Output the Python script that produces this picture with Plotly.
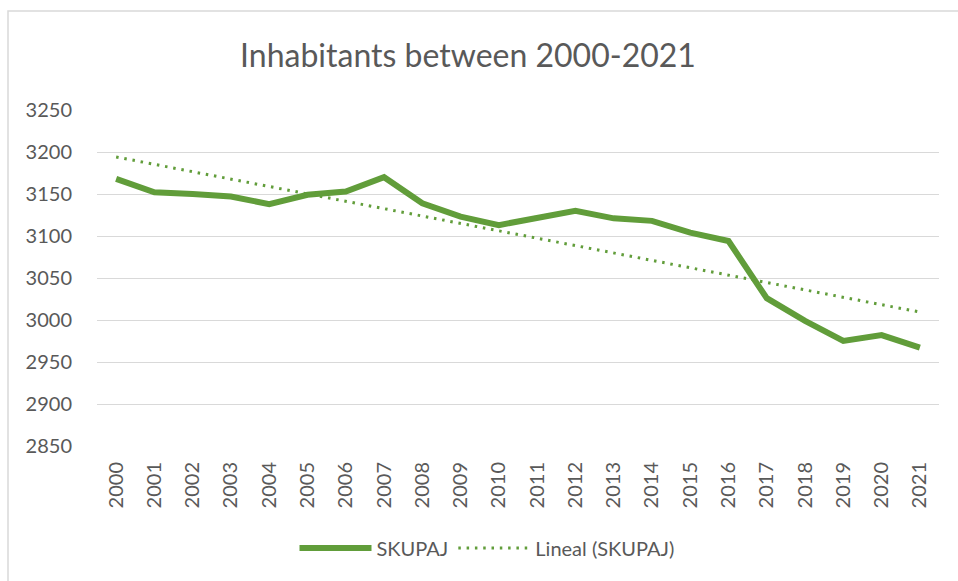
import numpy as np
import plotly.graph_objects as go

years = [str(y) for y in range(2000, 2022)]
skupaj = [3168, 3152, 3150, 3147, 3138, 3149, 3153, 3170, 3139, 3123, 3113,
          3121, 3130, 3121, 3118, 3104, 3094, 3026, 2999, 2975, 2982, 2967]

# Excel-style linear trendline ("Lineal") fitted to the series
idx = np.arange(len(skupaj))
slope, intercept = np.polyfit(idx, skupaj, 1)
trend = list(slope * idx + intercept)

GREEN = "#619D3A"
TXT = "#595959"
FONT = "Lato"

fig = go.Figure()
fig.add_trace(go.Scatter(x=years, y=skupaj, mode="lines", name="SKUPAJ",
                         line=dict(color=GREEN, width=6)))
fig.add_trace(go.Scatter(x=years, y=trend, mode="lines", name="Lineal (SKUPAJ)",
                         line=dict(color=GREEN, width=3, dash="2.5px,5.8px")))

L, R, T, B = 97, 19, 110, 135
W, H = 958, 581
pw, ph = W - L - R, H - T - B

def px_x(p):
    return (p - L) / pw

def px_y(p):
    return (H - B - p) / ph

fig.update_layout(
    width=W, height=H,
    margin=dict(l=L, r=R, t=T, b=B, autoexpand=False),
    paper_bgcolor="white", plot_bgcolor="white",
    font=dict(family=FONT, color=TXT, size=20),
    title=dict(text="Inhabitants between 2000-2021", x=468 / W, xanchor="center",
               xref="container", y=1 - 56 / H, yanchor="middle", yref="container",
               font=dict(family=FONT, size=32, color=TXT)),
    showlegend=True,
    legend=dict(orientation="h", x=px_x(487), xanchor="center",
                y=px_y(548), yanchor="middle",
                font=dict(family=FONT, size=20, color=TXT),
                itemwidth=72, bgcolor="rgba(0,0,0,0)"),
    xaxis=dict(type="category", range=[-0.5, len(years) - 0.5], tickangle=-90,
               showgrid=False, showline=False, automargin=False,
               ticks="", zeroline=False, ticklabelstandoff=11,
               tickfont=dict(family=FONT, size=20, color=TXT)),
    yaxis=dict(range=[2850, 3250], dtick=50, tick0=2850, showgrid=True,
               gridcolor="#D9D9D9", gridwidth=1, zeroline=False, showline=False,
               ticks="", ticklabelstandoff=24, automargin=False,
               tickfont=dict(family=FONT, size=20, color=TXT)),
    shapes=[dict(type="rect", xref="paper", yref="paper",
                 x0=px_x(8), x1=px_x(1000), y0=px_y(620), y1=px_y(11),
                 line=dict(color="#D9D9D9", width=1.5), fillcolor="rgba(0,0,0,0)",
                 layer="below")],
)

fig.write_html("out.html",
               config={"displayModeBar": False},
               post_script="document.body.style.margin='0';"
                           "document.body.style.overflow='hidden';")
